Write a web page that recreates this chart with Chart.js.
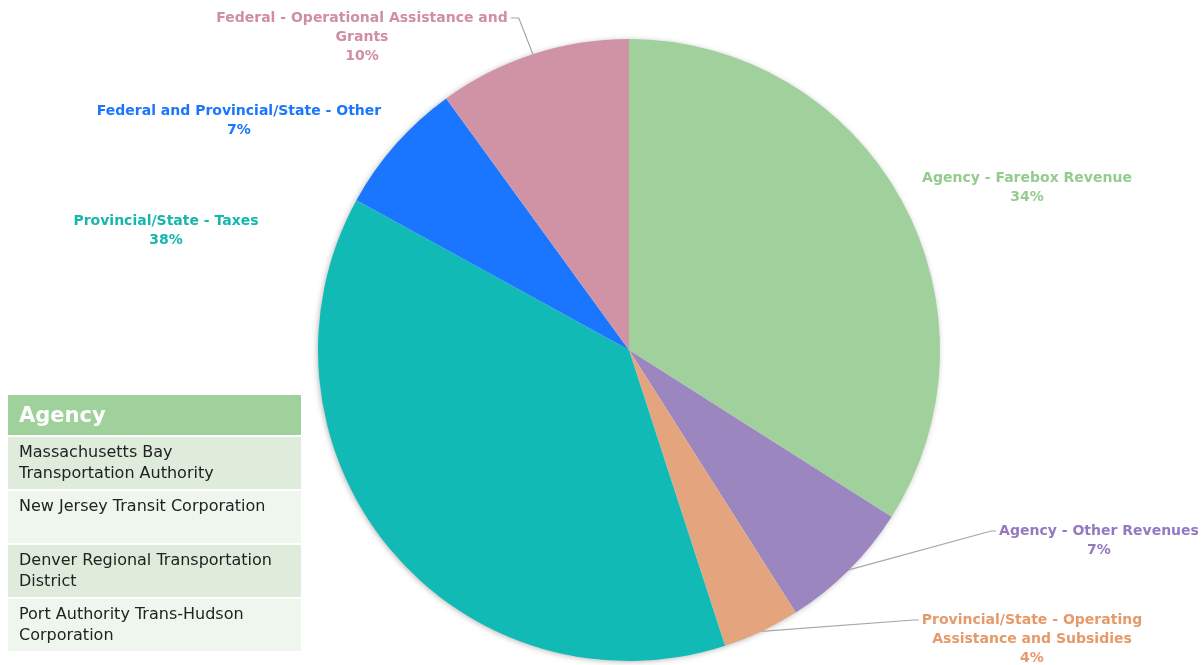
<!DOCTYPE html>
<html>
<head>
<meta charset="utf-8">
<script src="https://cdn.jsdelivr.net/npm/chart.js@4.4.0/dist/chart.umd.min.js"></script>
<style>
  html, body { margin: 0; padding: 0; background: #fff; }
  #wrap { position: relative; width: 1204px; height: 665px; }
  #revenuePie { position: absolute; left: 0; top: 0; }
  #agencyTable {
    position: absolute; left: 8px; top: 393px; width: 293px;
    border-collapse: separate; border-spacing: 0 2px;
    font-family: "DejaVu Sans", sans-serif; font-size: 16px; color: #222;
  }
  #agencyTable th {
    background: #a0d09c; color: #fff; text-align: left;
    font-size: 21px; font-weight: bold; height: 40px; padding: 0 11px;
  }
  #agencyTable td { padding: 4px 11px; height: 44px; vertical-align: top; line-height: 21px; }
  #agencyTable tr.dark td { background: #dfecdc; }
  #agencyTable tr.light td { background: #eff6ee; }
</style>
</head>
<body>
<div id="wrap">
  <canvas id="revenuePie" width="1204" height="665"></canvas>
  <table id="agencyTable">
    <thead><tr><th>Agency</th></tr></thead>
    <tbody id="agencyRows"></tbody>
  </table>
</div>
<script>
// Revenue sources, clockwise from 12 o'clock
const categories = [
  'Agency - Farebox Revenue',
  'Agency - Other Revenues',
  'Provincial/State - Operating Assistance and Subsidies',
  'Provincial/State - Taxes',
  'Federal and Provincial/State - Other',
  'Federal - Operational Assistance and Grants'
];
const shares = [34, 7, 4, 38, 7, 10];
const agencies = [
  'Massachusetts Bay Transportation Authority',
  'New Jersey Transit Corporation',
  'Denver Regional Transportation District',
  'Port Authority Trans-Hudson Corporation'
];

const sliceColors = ['#a0d09c', '#9b86c0', '#e4a57e', '#12bab5', '#1a75ff', '#d093a5'];
const textColors  = ['#93cc8e', '#9479c0', '#e69a6a', '#17b6ad', '#1a75ff', '#d08ea3'];

// label text lines + anchor (centre of first line) + whether a leader line is drawn
const labelLayout = [
  { lines: ['Agency - Farebox Revenue'], x: 1027, y: 178, leader: false },
  { lines: ['Agency - Other Revenues'], x: 1099, y: 531, leader: true, side: 'left' },
  { lines: ['Provincial/State - Operating', 'Assistance and Subsidies'], x: 1032, y: 620, leader: true, side: 'left' },
  { lines: ['Provincial/State - Taxes'], x: 166, y: 221, leader: false },
  { lines: ['Federal and Provincial/State - Other'], x: 239, y: 111, leader: false },
  { lines: ['Federal - Operational Assistance and', 'Grants'], x: 362, y: 18, leader: true, side: 'right' }
];

// agency table rows
const tbody = document.getElementById('agencyRows');
agencies.forEach((name, i) => {
  const tr = document.createElement('tr');
  tr.className = i % 2 === 0 ? 'dark' : 'light';
  const td = document.createElement('td');
  td.textContent = name;
  tr.appendChild(td);
  tbody.appendChild(tr);
});

const labelFont = 'bold 14px "DejaVu Sans", sans-serif';
const lineGap = 19;

// soft shadow under the pie
const pieShadow = {
  id: 'pieShadow',
  beforeDatasetsDraw(chart) {
    const arc = chart.getDatasetMeta(0).data[0];
    if (!arc) return;
    const ctx = chart.ctx;
    ctx.save();
    ctx.shadowColor = 'rgba(0,0,0,0.35)';
    ctx.shadowBlur = 6;
    ctx.shadowOffsetX = -1;
    ctx.shadowOffsetY = 1;
    ctx.fillStyle = '#fff';
    ctx.beginPath();
    ctx.arc(arc.x, arc.y, arc.outerRadius - 1, 0, Math.PI * 2);
    ctx.fill();
    ctx.restore();
  }
};

// outside labels with optional leader lines
const outsideLabels = {
  id: 'outsideLabels',
  afterDatasetsDraw(chart) {
    const ctx = chart.ctx;
    const meta = chart.getDatasetMeta(0);
    const total = shares.reduce((a, b) => a + b, 0);
    ctx.save();
    ctx.font = labelFont;
    ctx.textAlign = 'center';
    ctx.textBaseline = 'middle';
    meta.data.forEach((arc, i) => {
      const lay = labelLayout[i];
      const allLines = lay.lines.concat([Math.round(shares[i] / total * 100) + '%']);
      if (lay.leader) {
        const mid = (arc.startAngle + arc.endAngle) / 2;
        const sx = arc.x + Math.cos(mid) * arc.outerRadius;
        const sy = arc.y + Math.sin(mid) * arc.outerRadius;
        const w = ctx.measureText(lay.lines[0]).width;
        const ex = lay.side === 'left' ? lay.x - w / 2 - 3 : lay.x + w / 2 + 3;
        const hx = lay.side === 'left' ? ex - 5 : ex + 8;
        ctx.strokeStyle = '#a6a6a6';
        ctx.lineWidth = 1.2;
        ctx.beginPath();
        ctx.moveTo(sx, sy);
        ctx.lineTo(hx, lay.y);
        ctx.lineTo(ex, lay.y);
        ctx.stroke();
      }
      ctx.fillStyle = textColors[i];
      allLines.forEach((t, k) => ctx.fillText(t, lay.x, lay.y + k * lineGap));
    });
    ctx.restore();
  }
};

new Chart(document.getElementById('revenuePie'), {
  type: 'pie',
  data: {
    labels: categories,
    datasets: [{
      data: shares,
      backgroundColor: sliceColors,
      borderWidth: 0
    }]
  },
  options: {
    responsive: false,
    animation: false,
    layout: { padding: { left: 318, right: 264, top: 39, bottom: 4 } },
    plugins: {
      legend: { display: false },
      tooltip: { enabled: false }
    }
  },
  plugins: [pieShadow, outsideLabels]
});
</script>
</body>
</html>
